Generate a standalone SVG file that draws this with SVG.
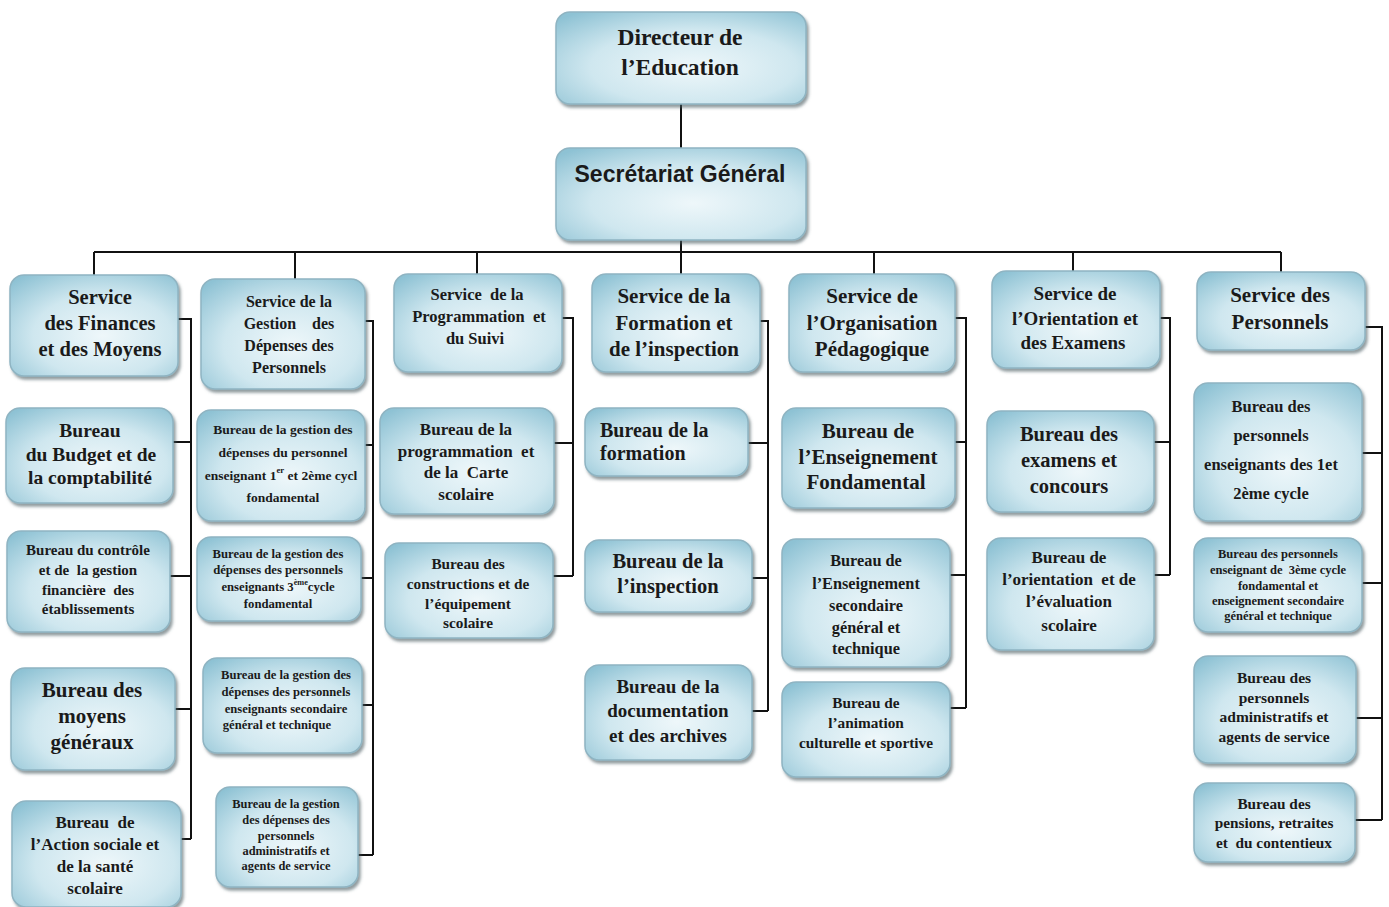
<svg xmlns="http://www.w3.org/2000/svg" width="1389" height="907" viewBox="0 0 1389 907">
<defs>
<radialGradient id="g" cx="55%" cy="60%" r="75%">
<stop offset="0" stop-color="#eef7fa"/>
<stop offset="0.55" stop-color="#cfe7ef"/>
<stop offset="1" stop-color="#8ec2d4"/>
</radialGradient>
<filter id="sh" x="-10%" y="-10%" width="125%" height="130%">
<feDropShadow dx="2" dy="3" stdDeviation="1.8" flood-color="#4a5a60" flood-opacity="0.6"/>
</filter>
<style>
.box{fill:url(#g);stroke:#8fb4c2;stroke-width:1.5;filter:url(#sh)}
.t{font-family:"Liberation Serif","Times New Roman",serif;font-weight:bold;fill:#1a1a1a;text-anchor:middle;dominant-baseline:central;white-space:pre}
.s{font-family:"Liberation Sans",Arial,sans-serif;font-weight:bold;fill:#1a1a1a;text-anchor:middle;dominant-baseline:central}
.c{stroke:#111;stroke-width:2;fill:none}
.sup{font-size:65%}
</style>
</defs>
<rect width="1389" height="907" fill="#fff"/>

<g id="connectors">
<path class="c" d="M681,104V148M681,240V252M94,252H1281M94,252V275M295,252V279M477,252V274M681,252V274M874,252V274M1073,252V271M1281,252V272"/>
<path class="c" d="M178,319H191V839M173,442H191M170,576H191M175,709H191M181,839H191"/>
<path class="c" d="M365,321H373V855M365,445H373M361,578H373M362,705H373M358,855H373"/>
<path class="c" d="M562,318H573V576M554,443H573M553,576H573"/>
<path class="c" d="M760,321H768V711M748,443H768M752,578H768M752,711H768"/>
<path class="c" d="M955,318H966V708M955,442H966M950,575H966M950,708H966"/>
<path class="c" d="M1160,318H1170V575M1154,442H1170M1154,575H1170"/>
<path class="c" d="M1365,327H1382V820M1362,453H1382M1362,583H1382M1356,718H1382M1355,820H1382"/>
</g>

<g id="directeur">
<rect class="box" x="556" y="12" width="250" height="92" rx="14"/>
<text class="t" font-size="23.5"><tspan x="680" y="37">Directeur de</tspan><tspan x="680" y="67">l’Education</tspan></text>
</g>
<g id="secretariat">
<rect class="box" x="556" y="148" width="250" height="92" rx="14"/>
<text class="s" font-size="23" x="680" y="174">Secrétariat Général</text>
</g>

<!-- Column 1 -->
<g id="svc-finances">
<rect class="box" x="10" y="275" width="168" height="101" rx="14"/>
<text class="t" font-size="20.5"><tspan x="100" y="297">Service</tspan><tspan x="100" y="323">des Finances</tspan><tspan x="100" y="349">et des Moyens</tspan></text>
</g>
<g id="b-budget">
<rect class="box" x="6" y="408" width="167" height="95" rx="14"/>
<text class="t" font-size="19.5"><tspan x="90" y="430">Bureau</tspan><tspan x="91" y="454">du Budget et de</tspan><tspan x="90" y="477">la comptabilité</tspan></text>
</g>
<g id="b-controle">
<rect class="box" x="7" y="531" width="163" height="101" rx="14"/>
<text class="t" font-size="15"><tspan x="88" y="550">Bureau du contrôle</tspan><tspan x="88" y="570">et de  la gestion</tspan><tspan x="88" y="590">financière  des</tspan><tspan x="88" y="609">établissements</tspan></text>
</g>
<g id="b-moyens">
<rect class="box" x="11" y="668" width="164" height="102" rx="14"/>
<text class="t" font-size="21"><tspan x="92" y="690">Bureau des</tspan><tspan x="92" y="716">moyens</tspan><tspan x="92" y="742">généraux</tspan></text>
</g>
<g id="b-action">
<rect class="box" x="12" y="801" width="169" height="106" rx="14"/>
<text class="t" font-size="17"><tspan x="95" y="822">Bureau  de</tspan><tspan x="95" y="844">l’Action sociale et</tspan><tspan x="95" y="866">de la santé</tspan><tspan x="95" y="888">scolaire</tspan></text>
</g>

<!-- Column 2 -->
<g id="svc-gestion">
<rect class="box" x="201" y="279" width="164" height="110" rx="14"/>
<text class="t" font-size="16"><tspan x="289" y="301">Service de la</tspan><tspan x="289" y="323">Gestion    des</tspan><tspan x="289" y="345">Dépenses des</tspan><tspan x="289" y="367">Personnels</tspan></text>
</g>
<g id="b-gestion-1">
<rect class="box" x="197" y="410" width="168" height="111" rx="14"/>
<text class="t" font-size="13.5"><tspan x="283" y="429">Bureau de la gestion des</tspan><tspan x="283" y="452">dépenses du personnel</tspan><tspan x="281" y="475">enseignant 1<tspan class="sup" baseline-shift="super">er</tspan> et 2ème cycl</tspan><tspan x="283" y="497">fondamental</tspan></text>
</g>
<g id="b-gestion-3">
<rect class="box" x="197" y="537" width="164" height="84" rx="14"/>
<text class="t" font-size="12.7"><tspan x="278" y="554">Bureau de la gestion des</tspan><tspan x="278" y="570">dépenses des personnels</tspan><tspan x="278" y="587">enseignants 3<tspan class="sup" baseline-shift="super">ème</tspan>cycle</tspan><tspan x="278" y="604">fondamental</tspan></text>
</g>
<g id="b-gestion-sec">
<rect class="box" x="203" y="658" width="159" height="95" rx="14"/>
<text class="t" font-size="12.6"><tspan x="286" y="675">Bureau de la gestion des</tspan><tspan x="286" y="692">dépenses des personnels</tspan><tspan x="286" y="709">enseignants secondaire</tspan><tspan x="277" y="725">général et technique</tspan></text>
</g>
<g id="b-gestion-adm">
<rect class="box" x="216" y="787" width="142" height="100" rx="14"/>
<text class="t" font-size="12.4"><tspan x="286" y="804">Bureau de la gestion</tspan><tspan x="286" y="820">des dépenses des</tspan><tspan x="286" y="836">personnels</tspan><tspan x="286" y="851">administratifs et</tspan><tspan x="286" y="866">agents de service</tspan></text>
</g>

<!-- Column 3 -->
<g id="svc-programmation">
<rect class="box" x="394" y="274" width="168" height="98" rx="14"/>
<text class="t" font-size="16.5"><tspan x="477" y="294">Service  de la</tspan><tspan x="479" y="316">Programmation  et</tspan><tspan x="475" y="338">du Suivi</tspan></text>
</g>
<g id="b-programmation">
<rect class="box" x="380" y="408" width="174" height="106" rx="14"/>
<text class="t" font-size="17"><tspan x="466" y="429">Bureau de la</tspan><tspan x="466" y="451">programmation  et</tspan><tspan x="466" y="472">de la  Carte</tspan><tspan x="466" y="494">scolaire</tspan></text>
</g>
<g id="b-constructions">
<rect class="box" x="385" y="543" width="168" height="95" rx="14"/>
<text class="t" font-size="15.3"><tspan x="468" y="563">Bureau des</tspan><tspan x="468" y="583">constructions et de</tspan><tspan x="468" y="603">l’équipement</tspan><tspan x="468" y="622">scolaire</tspan></text>
</g>

<!-- Column 4 -->
<g id="svc-formation">
<rect class="box" x="592" y="274" width="168" height="98" rx="14"/>
<text class="t" font-size="21"><tspan x="674" y="296">Service de la</tspan><tspan x="674" y="323">Formation et</tspan><tspan x="674" y="349">de l’inspection</tspan></text>
</g>
<g id="b-formation">
<rect class="box" x="585" y="408" width="163" height="68" rx="14"/>
<text class="t" font-size="20" style="text-anchor:start"><tspan x="600" y="430">Bureau de la</tspan><tspan x="600" y="453">formation</tspan></text>
</g>
<g id="b-inspection">
<rect class="box" x="585" y="540" width="167" height="72" rx="14"/>
<text class="t" font-size="20.5"><tspan x="668" y="561">Bureau de la</tspan><tspan x="668" y="586">l’inspection</tspan></text>
</g>
<g id="b-documentation">
<rect class="box" x="585" y="665" width="167" height="95" rx="14"/>
<text class="t" font-size="19"><tspan x="668" y="686">Bureau de la</tspan><tspan x="668" y="710">documentation</tspan><tspan x="668" y="735">et des archives</tspan></text>
</g>

<!-- Column 5 -->
<g id="svc-organisation">
<rect class="box" x="789" y="274" width="166" height="98" rx="14"/>
<text class="t" font-size="21"><tspan x="872" y="296">Service de</tspan><tspan x="872" y="323">l’Organisation</tspan><tspan x="872" y="349">Pédagogique</tspan></text>
</g>
<g id="b-fondamental">
<rect class="box" x="782" y="408" width="173" height="100" rx="14"/>
<text class="t" font-size="21"><tspan x="868" y="431">Bureau de</tspan><tspan x="868" y="457">l’Enseignement</tspan><tspan x="866" y="482">Fondamental</tspan></text>
</g>
<g id="b-secondaire">
<rect class="box" x="782" y="539" width="168" height="128" rx="14"/>
<text class="t" font-size="16.3"><tspan x="866" y="560">Bureau de</tspan><tspan x="866" y="583">l’Enseignement</tspan><tspan x="866" y="605">secondaire</tspan><tspan x="866" y="627">général et</tspan><tspan x="866" y="648">technique</tspan></text>
</g>
<g id="b-animation">
<rect class="box" x="782" y="682" width="168" height="95" rx="14"/>
<text class="t" font-size="15.3"><tspan x="866" y="702">Bureau de</tspan><tspan x="866" y="722">l’animation</tspan><tspan x="866" y="742">culturelle et sportive</tspan></text>
</g>

<!-- Column 6 -->
<g id="svc-orientation">
<rect class="box" x="992" y="271" width="168" height="97" rx="14"/>
<text class="t" font-size="19"><tspan x="1075" y="293">Service de</tspan><tspan x="1075" y="318">l’Orientation et</tspan><tspan x="1073" y="342">des Examens</tspan></text>
</g>
<g id="b-examens">
<rect class="box" x="987" y="411" width="167" height="101" rx="14"/>
<text class="t" font-size="20.5"><tspan x="1069" y="434">Bureau des</tspan><tspan x="1069" y="460">examens et</tspan><tspan x="1069" y="486">concours</tspan></text>
</g>
<g id="b-orientation">
<rect class="box" x="987" y="538" width="167" height="112" rx="14"/>
<text class="t" font-size="17"><tspan x="1069" y="557">Bureau de</tspan><tspan x="1069" y="579">l’orientation  et de</tspan><tspan x="1069" y="601">l’évaluation</tspan><tspan x="1069" y="625">scolaire</tspan></text>
</g>

<!-- Column 7 -->
<g id="svc-personnels">
<rect class="box" x="1197" y="272" width="168" height="78" rx="14"/>
<text class="t" font-size="21"><tspan x="1280" y="295">Service des</tspan><tspan x="1280" y="322">Personnels</tspan></text>
</g>
<g id="b-pers-1">
<rect class="box" x="1194" y="383" width="168" height="138" rx="14"/>
<text class="t" font-size="16.5"><tspan x="1271" y="406">Bureau des</tspan><tspan x="1271" y="435">personnels</tspan><tspan x="1271" y="464">enseignants des 1et</tspan><tspan x="1271" y="493">2ème cycle</tspan></text>
</g>
<g id="b-pers-3">
<rect class="box" x="1194" y="538" width="168" height="94" rx="14"/>
<text class="t" font-size="12.5"><tspan x="1278" y="554">Bureau des personnels</tspan><tspan x="1278" y="570">enseignant de  3ème cycle</tspan><tspan x="1278" y="586">fondamental et</tspan><tspan x="1278" y="601">enseignement secondaire</tspan><tspan x="1278" y="616">général et technique</tspan></text>
</g>
<g id="b-pers-adm">
<rect class="box" x="1194" y="656" width="162" height="107" rx="14"/>
<text class="t" font-size="15.5"><tspan x="1274" y="677">Bureau des</tspan><tspan x="1274" y="697">personnels</tspan><tspan x="1274" y="716">administratifs et</tspan><tspan x="1274" y="736">agents de service</tspan></text>
</g>
<g id="b-pensions">
<rect class="box" x="1194" y="783" width="161" height="79" rx="14"/>
<text class="t" font-size="15.3"><tspan x="1274" y="803">Bureau des</tspan><tspan x="1274" y="822">pensions, retraites</tspan><tspan x="1274" y="842">et  du contentieux</tspan></text>
</g>
</svg>
